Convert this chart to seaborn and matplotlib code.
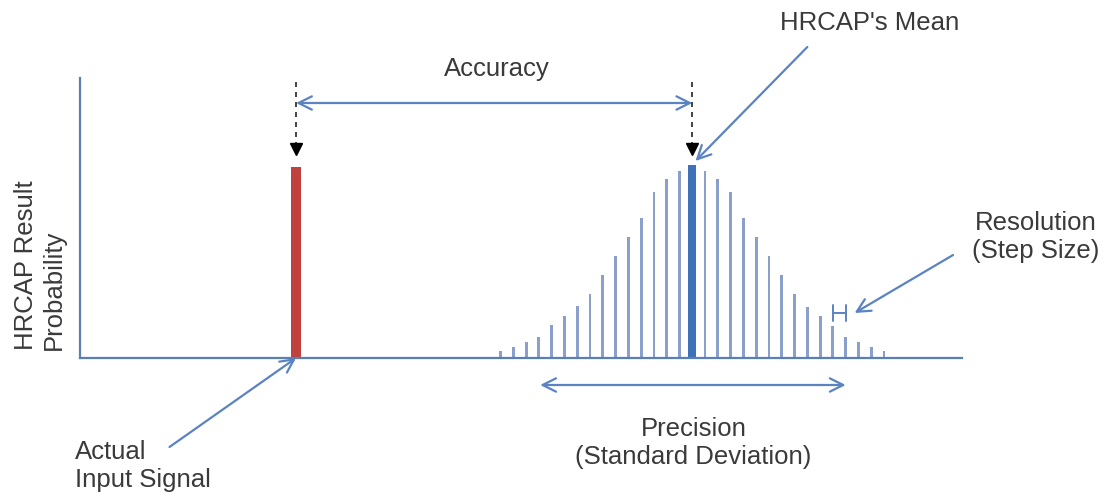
import pandas as pd
import matplotlib.pyplot as plt
import seaborn as sns

# dados do grafico (alturas, em unidades relativas)
steps = list(range(-15, 16))
heights = [7, 11, 16, 21, 33, 42, 52, 64, 83, 102, 121, 140, 166, 179, 187,
           193,
           187, 179, 166, 140, 121, 102, 83, 64, 51, 42, 32, 21, 16, 11, 7]
mean_step = [0]
mean_height = [193]
input_step = [-31]
input_height = [191]

sns.set_style("white")
plt.rcParams['font.family'] = ['Liberation Sans', 'DejaVu Sans']

txt_color = "#3a3a3a"
axis_color = "#5a7fb5"
arrow_color = "#5b83c2"
bar_color = "#8a9fcb"
mean_color = "#3d72b8"
input_color = "#c0413d"

fig = plt.figure(figsize=(11.05, 4.94), dpi=100)
ax = fig.add_axes([80 / 1105, 136 / 494, 882 / 1105, 280 / 494])

df = pd.DataFrame({'step': steps, 'height': heights})
sns.barplot(data=df, x='step', y='height', native_scale=True, width=0.22,
            color=bar_color, saturation=1, linewidth=0, errorbar=None, ax=ax)
sns.barplot(x=mean_step, y=mean_height, native_scale=True, width=0.65,
            color=mean_color, saturation=1, linewidth=0, errorbar=None, ax=ax)
sns.barplot(x=input_step, y=input_height, native_scale=True, width=0.75,
            color=input_color, saturation=1, linewidth=0, errorbar=None, ax=ax)

ax.set_xlim(-47.9, 21.1)
ax.set_ylim(0, 280)
ax.set_xticks([])
ax.set_yticks([])
ax.set_xlabel("")
ax.set_ylabel("")
for s in ['top', 'right']:
    ax.spines[s].set_visible(False)
for s in ['left', 'bottom']:
    ax.spines[s].set_color(axis_color)
    ax.spines[s].set_linewidth(1.6)

# setas tracejadas apontando para a entrada e para a media
for xs in [input_step[0], mean_step[0]]:
    ax.plot([xs, xs], [276, 214], ls=(0, (3, 3)), color='#222222', lw=1.2, clip_on=False)
    ax.plot([xs], [209], marker='v', ms=8, color='black', clip_on=False)

arrow_kw = dict(color=arrow_color, lw=1.6, mutation_scale=24, shrinkA=0, shrinkB=0)

# Accuracy
ax.annotate('', xy=(input_step[0], 255), xytext=(mean_step[0], 255),
            arrowprops=dict(arrowstyle='<->', **arrow_kw), annotation_clip=False)
ax.text(-15.3, 289, "Accuracy", ha='center', va='center', fontsize=18.5, color=txt_color)

# HRCAP's Mean
ax.text(13.9, 335, "HRCAP's Mean", ha='center', va='center', fontsize=18.5, color=txt_color)
ax.annotate('', xy=(0.25, 197), xytext=(9.0, 311),
            arrowprops=dict(arrowstyle='->', **arrow_kw), annotation_clip=False)

# Actual Input Signal
ax.text(-48.3, -108, "Actual\nInput Signal", ha='left', va='center', fontsize=18.5,
        color=txt_color, linespacing=1.2)
ax.annotate('', xy=(input_step[0], 0), xytext=(-40.9, -89),
            arrowprops=dict(arrowstyle='->', **arrow_kw), annotation_clip=False)

# Precision
ax.annotate('', xy=(-11.9, -27), xytext=(12.0, -27),
            arrowprops=dict(arrowstyle='<->', **arrow_kw), annotation_clip=False)
ax.text(0.1, -85, "Precision\n(Standard Deviation)", ha='center', va='center',
        fontsize=18.5, color=txt_color, linespacing=1.2)

# Resolution
ax.annotate('', xy=(11, 45), xytext=(12, 45),
            arrowprops=dict(arrowstyle='|-|', color=arrow_color, lw=1.4,
                            mutation_scale=6, shrinkA=0, shrinkB=0),
            annotation_clip=False)
ax.annotate('', xy=(12.7, 45), xytext=(20.4, 103),
            arrowprops=dict(arrowstyle='->', **arrow_kw), annotation_clip=False)
ax.text(26.9, 121, "Resolution\n(Step Size)", ha='center', va='center',
        fontsize=18.5, color=txt_color, linespacing=1.2)

# rotulo do eixo y
fig.text(40 / 1105, 1 - 350 / 494, "HRCAP Result\nProbability", rotation=90,
         ha='center', va='bottom', multialignment='left', fontsize=18.5,
         color=txt_color, linespacing=1.2)

fig.savefig("out.png", dpi=100)
